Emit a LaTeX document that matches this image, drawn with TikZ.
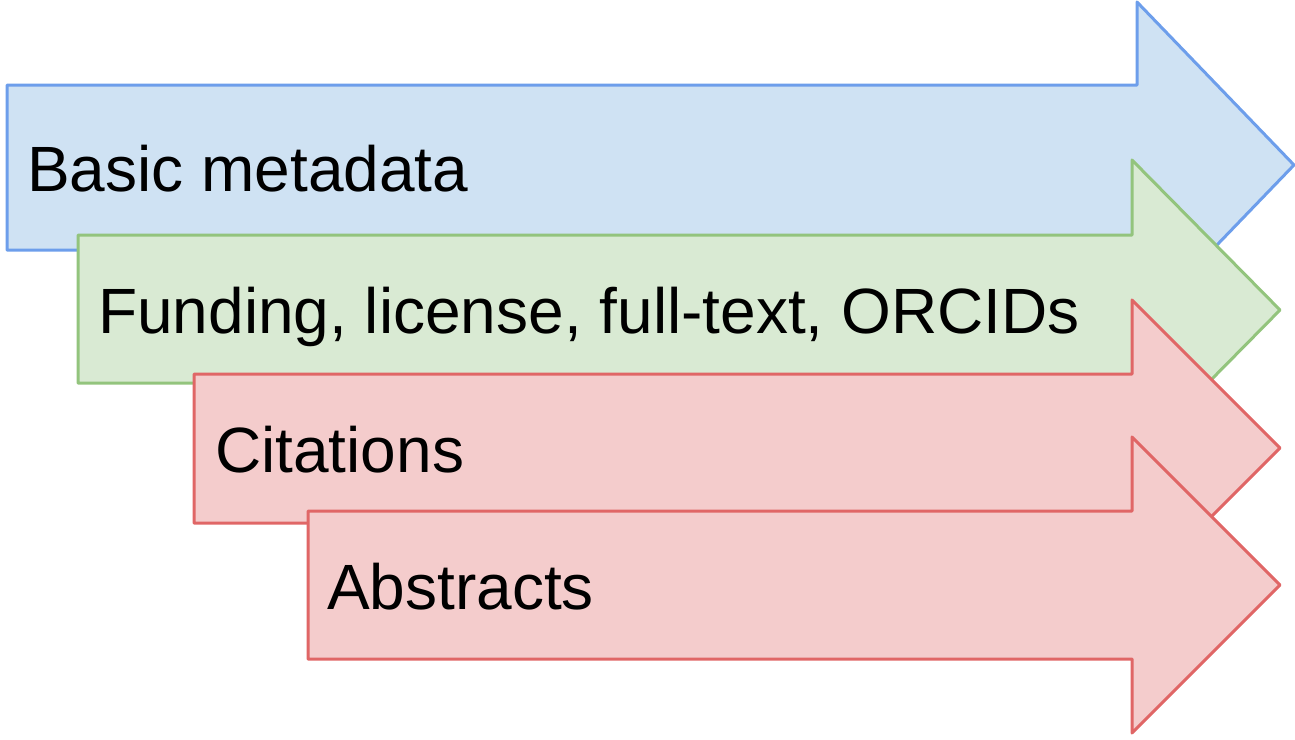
\documentclass[tikz,border=0pt]{standalone}
\usepackage{fontspec}
\setmainfont{Liberation Sans}
\usepackage{tikz}
\usetikzlibrary{positioning}

\definecolor{blueline}{HTML}{6D9EEB}
\definecolor{bluefill}{HTML}{CFE2F3}
\definecolor{greenline}{HTML}{93C47D}
\definecolor{greenfill}{HTML}{D9EAD3}
\definecolor{redline}{HTML}{E06666}
\definecolor{redfill}{HTML}{F4CCCC}

\tikzset{
  stage/.style={line width=3pt, line join=round},
  stagetext/.style={anchor=base west, inner sep=0pt, font=\fontsize{64}{77}\selectfont},
}

\begin{document}
\begin{tikzpicture}[x=1pt, y=-1pt]
        \useasboundingbox (0,0) rectangle (1295,739);
        % basic metadata
        \draw[stage, draw=blueline, fill=bluefill] (7,85) -- (1137,85) -- (1137,2) -- (1294,165) -- (1137,328) -- (1137,250) -- (7,250) -- cycle;
        \node[stagetext] (basic) at (27,191) {Basic metadata};
        % funding etc.
        \draw[stage, draw=greenline, fill=greenfill] (78,235) -- (1132,235) -- (1132,160) -- (1280,310) -- (1132,460) -- (1132,383) -- (78,383) -- cycle;
        \node[stagetext] (funding) at (98,333) {Funding, license, full-text, ORCIDs};
        % citations
        \draw[stage, draw=redline, fill=redfill] (194,374) -- (1132,374) -- (1132,300) -- (1280,448) -- (1132,596) -- (1132,523) -- (194,523) -- cycle;
        \node[stagetext] (citations) at (215,472) {Citations};
        % abstracts
        \draw[stage, draw=redline, fill=redfill] (308,511) -- (1132,511) -- (1132,437) -- (1280,585) -- (1132,733) -- (1132,659) -- (308,659) -- cycle;
        \node[stagetext] (abstracts) at (327,609) {Abstracts};
\end{tikzpicture}
\end{document}
